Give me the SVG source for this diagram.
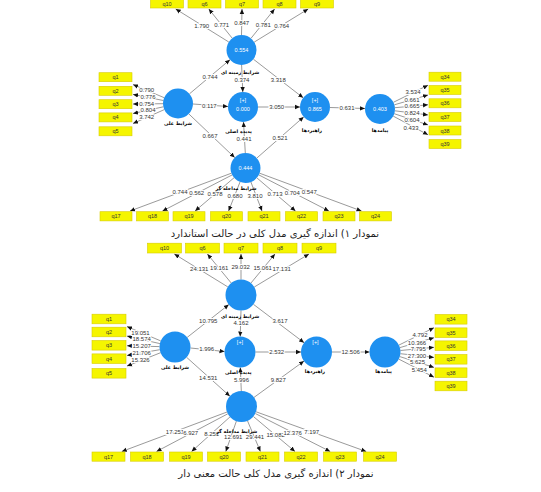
<svg xmlns="http://www.w3.org/2000/svg" width="541" height="492" viewBox="0 0 541 492">
<style>
.bx{fill:#f5f500;stroke:#d8cc00;stroke-width:0.6}
.bt{font-family:"Liberation Sans",Arial,sans-serif;font-size:5.5px;fill:#333;text-anchor:middle;dominant-baseline:central}
.nd{fill:#1e90f0}
.nt{font-family:"Liberation Sans",Arial,sans-serif;font-size:5.5px;fill:#fff;text-anchor:middle;dominant-baseline:central}
.nl{font-family:"DejaVu Sans",sans-serif;font-size:4.8px;font-weight:bold;fill:#000;text-anchor:middle;dominant-baseline:central}
.e line{stroke:#555;stroke-width:0.6;marker-end:url(#ah)}
.el{font-family:"Liberation Sans",Arial,sans-serif;font-size:6px;fill:#333;text-anchor:middle;dominant-baseline:central;stroke:#fff;stroke-width:2;paint-order:stroke}
.cap{font-family:"DejaVu Sans","Noto Sans",sans-serif;font-size:10px;fill:#222;text-anchor:middle;dominant-baseline:central}
</style>
<defs>
<marker id="ah" markerWidth="6" markerHeight="6" refX="5" refY="3" orient="auto" markerUnits="userSpaceOnUse">
<path d="M0,0.8 L5,3 L0,5.2 Z" fill="#111"/>
</marker>
</defs>
<rect width="541" height="492" fill="#fff"/>

<!-- ===== TOP DIAGRAM: connectors ===== -->
<g id="edges1" class="e">
<line x1="228.8" y1="42" x2="175.7" y2="9"/>
<line x1="232.2" y1="38.2" x2="208.8" y2="9"/>
<line x1="241.5" y1="35" x2="242" y2="9"/>
<line x1="251" y1="38.3" x2="274.6" y2="9"/>
<line x1="254.2" y1="42.1" x2="308.2" y2="9"/>
<line x1="164.2" y1="97.7" x2="133" y2="84.6"/>
<line x1="163.3" y1="100.5" x2="133" y2="94.4"/>
<line x1="163" y1="103.7" x2="133" y2="104"/>
<line x1="163.4" y1="106.8" x2="133" y2="113.5"/>
<line x1="164.3" y1="109.6" x2="133" y2="123.5"/>
<line x1="393.4" y1="102.3" x2="428" y2="85.2"/>
<line x1="394.4" y1="104.8" x2="428" y2="95"/>
<line x1="394.9" y1="107.7" x2="428" y2="104.8"/>
<line x1="394.9" y1="110.8" x2="428" y2="114.9"/>
<line x1="394.2" y1="113.7" x2="428" y2="124.9"/>
<line x1="393.2" y1="116.1" x2="428" y2="134.8"/>
<line x1="231.4" y1="173.2" x2="130" y2="211"/>
<line x1="232.2" y1="174.9" x2="162.5" y2="211"/>
<line x1="234.1" y1="177.7" x2="195.1" y2="211"/>
<line x1="240" y1="182" x2="228.6" y2="211"/>
<line x1="250.9" y1="182" x2="262" y2="211"/>
<line x1="256.8" y1="177.8" x2="295.5" y2="211"/>
<line x1="258.8" y1="174.9" x2="328.9" y2="211"/>
<line x1="259.6" y1="173.2" x2="361.5" y2="211"/>
<line x1="189.5" y1="93.8" x2="230" y2="59.7"/>
<line x1="241.6" y1="65" x2="242.8" y2="92"/>
<line x1="253.4" y1="59.2" x2="303.2" y2="97.8"/>
<line x1="193" y1="104" x2="228" y2="106.5"/>
<line x1="188.8" y1="113.9" x2="234.7" y2="157.6"/>
<line x1="245.3" y1="153" x2="243.5" y2="122"/>
<line x1="258" y1="107" x2="300" y2="107"/>
<line x1="256.8" y1="158.1" x2="303.7" y2="116.9"/>
<line x1="330" y1="107.5" x2="365" y2="108.5"/>
</g>
<g id="labels1">
<text class="el" x="201.7" y="25.7">1.790</text>
<text class="el" x="221.7" y="25">0.771</text>
<text class="el" x="241.7" y="23.3">0.847</text>
<text class="el" x="263.3" y="25">0.781</text>
<text class="el" x="281.7" y="26">0.764</text>
<text class="el" x="146.7" y="90.3">0.790</text>
<text class="el" x="148" y="97">0.776</text>
<text class="el" x="146.7" y="103.6">0.754</text>
<text class="el" x="148" y="110.3">0.804</text>
<text class="el" x="146.7" y="117.3">3.742</text>
<text class="el" x="413" y="92.3">3.534</text>
<text class="el" x="412" y="99.7">0.661</text>
<text class="el" x="412" y="106.2">0.665</text>
<text class="el" x="412" y="112.9">0.824</text>
<text class="el" x="412" y="119.6">0.604</text>
<text class="el" x="411" y="127.5">0.433</text>
<text class="el" x="180" y="192">0.744</text>
<text class="el" x="196.7" y="193">0.562</text>
<text class="el" x="215" y="194.3">0.578</text>
<text class="el" x="235" y="195.7">0.680</text>
<text class="el" x="255" y="195.7">3.810</text>
<text class="el" x="275" y="194.3">0.713</text>
<text class="el" x="292.3" y="192.5">0.704</text>
<text class="el" x="309.3" y="192">0.547</text>
<text class="el" x="210" y="77">0.744</text>
<text class="el" x="241.9" y="80">0.374</text>
<text class="el" x="278.3" y="80">3.318</text>
<text class="el" x="209.3" y="105.5">0.117</text>
<text class="el" x="210" y="135.5">0.667</text>
<text class="el" x="244" y="139">0.441</text>
<text class="el" x="276.7" y="107">3.050</text>
<text class="el" x="280" y="137.7">0.521</text>
<text class="el" x="347" y="108">0.631</text>
</g>

<!-- ===== TOP DIAGRAM: indicator boxes ===== -->
<g id="q10a"><rect class="bx" x="150.5" y="-2" width="33" height="10"/><text class="bt" x="167" y="3.5">q10</text></g>
<g id="q6a"><rect class="bx" x="188" y="-2" width="33" height="10"/><text class="bt" x="204.5" y="3.5">q6</text></g>
<g id="q7a"><rect class="bx" x="225.5" y="-2" width="33" height="10"/><text class="bt" x="242" y="3.5">q7</text></g>
<g id="q8a"><rect class="bx" x="263" y="-2" width="33" height="10"/><text class="bt" x="279.5" y="3.5">q8</text></g>
<g id="q9a"><rect class="bx" x="300.5" y="-2" width="33" height="10"/><text class="bt" x="317" y="3.5">q9</text></g>
<g id="q1a"><rect class="bx" x="99" y="72.7" width="33" height="9"/><text class="bt" x="115.5" y="77.2">q1</text></g>
<g id="q2a"><rect class="bx" x="99" y="86.3" width="33" height="9"/><text class="bt" x="115.5" y="90.8">q2</text></g>
<g id="q3a"><rect class="bx" x="99" y="99.7" width="33" height="9"/><text class="bt" x="115.5" y="104.2">q3</text></g>
<g id="q4a"><rect class="bx" x="99" y="112.9" width="33" height="9"/><text class="bt" x="115.5" y="117.4">q4</text></g>
<g id="q5a"><rect class="bx" x="99" y="126.8" width="33" height="9"/><text class="bt" x="115.5" y="131.3">q5</text></g>
<g id="q34a"><rect class="bx" x="429" y="72.2" width="32" height="9"/><text class="bt" x="445" y="76.7">q34</text></g>
<g id="q35a"><rect class="bx" x="429" y="85.5" width="32" height="9"/><text class="bt" x="445" y="90">q35</text></g>
<g id="q36a"><rect class="bx" x="429" y="98.8" width="32" height="9"/><text class="bt" x="445" y="103.3">q36</text></g>
<g id="q37a"><rect class="bx" x="429" y="112.5" width="32" height="9"/><text class="bt" x="445" y="117">q37</text></g>
<g id="q38a"><rect class="bx" x="429" y="126" width="32" height="9"/><text class="bt" x="445" y="130.5">q38</text></g>
<g id="q39a"><rect class="bx" x="429" y="139.5" width="32" height="9"/><text class="bt" x="445" y="144">q39</text></g>
<g id="q17a"><rect class="bx" x="100" y="211.7" width="32" height="9.2"/><text class="bt" x="116" y="216.3">q17</text></g>
<g id="q18a"><rect class="bx" x="136.5" y="211.7" width="32" height="9.2"/><text class="bt" x="152.5" y="216.3">q18</text></g>
<g id="q19a"><rect class="bx" x="173" y="211.7" width="32" height="9.2"/><text class="bt" x="189" y="216.3">q19</text></g>
<g id="q20a"><rect class="bx" x="210.5" y="211.7" width="32" height="9.2"/><text class="bt" x="226.5" y="216.3">q20</text></g>
<g id="q21a"><rect class="bx" x="248" y="211.7" width="32" height="9.2"/><text class="bt" x="264" y="216.3">q21</text></g>
<g id="q22a"><rect class="bx" x="285.5" y="211.7" width="32" height="9.2"/><text class="bt" x="301.5" y="216.3">q22</text></g>
<g id="q23a"><rect class="bx" x="323" y="211.7" width="32" height="9.2"/><text class="bt" x="339" y="216.3">q23</text></g>
<g id="q24a"><rect class="bx" x="359.5" y="211.7" width="32" height="9.2"/><text class="bt" x="375.5" y="216.3">q24</text></g>

<!-- ===== TOP DIAGRAM: latent nodes ===== -->
<g id="T1"><circle class="nd" cx="241.5" cy="50" r="15"/><text class="nt" x="241.5" y="50">0.554</text><text class="nl" x="240" y="72">شرایط زمینه ای</text></g>
<g id="L1"><circle class="nd" cx="178" cy="103.5" r="15"/><text class="nl" x="178" y="123">شرایط علی</text></g>
<g id="M1"><circle class="nd" cx="243" cy="107" r="15"/><text class="nt" x="243" y="100">[+]</text><text class="nt" x="243" y="108.5">0.000</text><text class="nl" x="238.5" y="131.7">پدیده اصلی</text></g>
<g id="R1"><circle class="nd" cx="315" cy="107" r="15"/><text class="nt" x="315" y="99.5">[+]</text><text class="nt" x="315" y="108.5">0.865</text><text class="nl" x="312" y="130.5">راهبردها</text></g>
<g id="F1"><circle class="nd" cx="380" cy="109" r="15"/><text class="nt" x="380" y="109">0.403</text><text class="nl" x="380" y="130.7">پیامدها</text></g>
<g id="B1"><circle class="nd" cx="245.5" cy="168" r="15"/><text class="nt" x="245.5" y="168">0.444</text><text class="nl" x="236" y="188.7">شرایط مداخله گر</text></g>

<text class="cap" x="275" y="233">نمودار ۱) اندازه گیری مدل کلی در حالت استاندارد</text>

<!-- ===== BOTTOM DIAGRAM: connectors ===== -->
<g id="edges2" class="e">
<line x1="227.8" y1="286.9" x2="174.3" y2="254"/>
<line x1="231.2" y1="283" x2="207.4" y2="254"/>
<line x1="241" y1="279.5" x2="241" y2="254"/>
<line x1="250.9" y1="283.1" x2="275" y2="254"/>
<line x1="254.3" y1="287" x2="309" y2="254"/>
<line x1="160.7" y1="340.9" x2="127" y2="326.6"/>
<line x1="159.9" y1="343.6" x2="127" y2="336.1"/>
<line x1="159.5" y1="346.6" x2="127" y2="345.8"/>
<line x1="159.7" y1="349.7" x2="127" y2="355.5"/>
<line x1="160.6" y1="352.7" x2="127" y2="366.1"/>
<line x1="398.9" y1="345.1" x2="434" y2="327.7"/>
<line x1="399.9" y1="347.6" x2="434" y2="337.7"/>
<line x1="400.4" y1="350.5" x2="434" y2="347.3"/>
<line x1="400.4" y1="353.7" x2="434" y2="357.4"/>
<line x1="399.8" y1="356.6" x2="434" y2="367.4"/>
<line x1="398.8" y1="359.1" x2="434" y2="377.2"/>
<line x1="227" y1="412" x2="121.8" y2="451.5"/>
<line x1="227.8" y1="413.8" x2="156.5" y2="451.5"/>
<line x1="230" y1="416.9" x2="191.6" y2="451.5"/>
<line x1="236.4" y1="421.1" x2="225.8" y2="451.5"/>
<line x1="247.5" y1="420.8" x2="260.4" y2="451.5"/>
<line x1="253.4" y1="416.5" x2="295" y2="451.5"/>
<line x1="255.3" y1="413.5" x2="330.2" y2="451.5"/>
<line x1="256.1" y1="411.8" x2="366.2" y2="451.5"/>
<line x1="187.2" y1="337.4" x2="228.8" y2="304.6"/>
<line x1="241" y1="310.5" x2="240.2" y2="336.5"/>
<line x1="253.4" y1="304.3" x2="304.1" y2="342.7"/>
<line x1="190.5" y1="348" x2="224.5" y2="351.5"/>
<line x1="186.6" y1="357.3" x2="229.9" y2="396.2"/>
<line x1="241.3" y1="391" x2="240.3" y2="367.5"/>
<line x1="255.5" y1="352" x2="301" y2="352"/>
<line x1="254" y1="397.4" x2="304" y2="361.1"/>
<line x1="332" y1="352" x2="369.5" y2="352"/>
</g>
<g id="labels2">
<text class="el" x="199.3" y="269.2">24.131</text>
<text class="el" x="219.3" y="267.7">19.161</text>
<text class="el" x="240.7" y="266.7">29.032</text>
<text class="el" x="262.7" y="267.7">15.061</text>
<text class="el" x="281.7" y="269">17.131</text>
<text class="el" x="140.5" y="332.6">19.051</text>
<text class="el" x="141.7" y="339.3">18.574</text>
<text class="el" x="141.7" y="346">15.207</text>
<text class="el" x="141.7" y="352.8">21.706</text>
<text class="el" x="140.5" y="360.3">15.326</text>
<text class="el" x="420" y="335">4.792</text>
<text class="el" x="417" y="342.5">10.366</text>
<text class="el" x="418.3" y="348.7">7.795</text>
<text class="el" x="417" y="355.5">27.300</text>
<text class="el" x="417.5" y="362.2">5.625</text>
<text class="el" x="419.3" y="369.5">5.454</text>
<text class="el" x="175" y="431.8">17.251</text>
<text class="el" x="190.7" y="433.3">6.927</text>
<text class="el" x="211.7" y="434.3">8.251</text>
<text class="el" x="233.3" y="436.5">12.691</text>
<text class="el" x="255" y="436.5">29.441</text>
<text class="el" x="275.7" y="435">15.082</text>
<text class="el" x="292.7" y="433.3">12.376</text>
<text class="el" x="311.7" y="432.3">7.197</text>
<text class="el" x="208.3" y="320.7">10.795</text>
<text class="el" x="241" y="322.7">4.162</text>
<text class="el" x="280" y="321">3.617</text>
<text class="el" x="206.7" y="349">1.996</text>
<text class="el" x="208.3" y="377.7">14.531</text>
<text class="el" x="241.5" y="380">5.996</text>
<text class="el" x="276.7" y="352">2.532</text>
<text class="el" x="278.3" y="380">9.827</text>
<text class="el" x="350.7" y="352">12.506</text>
</g>

<!-- ===== BOTTOM DIAGRAM: indicator boxes ===== -->
<g id="q10b"><rect class="bx" x="147.5" y="243.2" width="34" height="9.8"/><text class="bt" x="164.5" y="248.1">q10</text></g>
<g id="q6b"><rect class="bx" x="185.5" y="243.2" width="34" height="9.8"/><text class="bt" x="202.5" y="248.1">q6</text></g>
<g id="q7b"><rect class="bx" x="224" y="243.2" width="34" height="9.8"/><text class="bt" x="241" y="248.1">q7</text></g>
<g id="q8b"><rect class="bx" x="263" y="243.2" width="34" height="9.8"/><text class="bt" x="280" y="248.1">q8</text></g>
<g id="q9b"><rect class="bx" x="302" y="243.2" width="34" height="9.8"/><text class="bt" x="319" y="248.1">q9</text></g>
<g id="q1b"><rect class="bx" x="92" y="314.2" width="34" height="9.6"/><text class="bt" x="109" y="319">q1</text></g>
<g id="q2b"><rect class="bx" x="92" y="327.2" width="34" height="9.6"/><text class="bt" x="109" y="332">q2</text></g>
<g id="q3b"><rect class="bx" x="92" y="340.5" width="34" height="9.6"/><text class="bt" x="109" y="345.3">q3</text></g>
<g id="q4b"><rect class="bx" x="92" y="353.9" width="34" height="9.6"/><text class="bt" x="109" y="358.7">q4</text></g>
<g id="q5b"><rect class="bx" x="92" y="368.5" width="34" height="9.6"/><text class="bt" x="109" y="373.3">q5</text></g>
<g id="q34b"><rect class="bx" x="435" y="314.5" width="32" height="9.6"/><text class="bt" x="451" y="319.3">q34</text></g>
<g id="q35b"><rect class="bx" x="435" y="327.9" width="32" height="9.6"/><text class="bt" x="451" y="332.7">q35</text></g>
<g id="q36b"><rect class="bx" x="435" y="340.9" width="32" height="9.6"/><text class="bt" x="451" y="345.7">q36</text></g>
<g id="q37b"><rect class="bx" x="435" y="354.5" width="32" height="9.6"/><text class="bt" x="451" y="359.3">q37</text></g>
<g id="q38b"><rect class="bx" x="435" y="367.9" width="32" height="9.6"/><text class="bt" x="451" y="372.7">q38</text></g>
<g id="q39b"><rect class="bx" x="435" y="381.2" width="32" height="9.6"/><text class="bt" x="451" y="386">q39</text></g>
<g id="q17b"><rect class="bx" x="92" y="452" width="33" height="9.2"/><text class="bt" x="108.5" y="456.6">q17</text></g>
<g id="q18b"><rect class="bx" x="130.5" y="452" width="33" height="9.2"/><text class="bt" x="147" y="456.6">q18</text></g>
<g id="q19b"><rect class="bx" x="169.5" y="452" width="33" height="9.2"/><text class="bt" x="186" y="456.6">q19</text></g>
<g id="q20b"><rect class="bx" x="207.5" y="452" width="33" height="9.2"/><text class="bt" x="224" y="456.6">q20</text></g>
<g id="q21b"><rect class="bx" x="246" y="452" width="33" height="9.2"/><text class="bt" x="262.5" y="456.6">q21</text></g>
<g id="q22b"><rect class="bx" x="284.5" y="452" width="33" height="9.2"/><text class="bt" x="301" y="456.6">q22</text></g>
<g id="q23b"><rect class="bx" x="323.5" y="452" width="33" height="9.2"/><text class="bt" x="340" y="456.6">q23</text></g>
<g id="q24b"><rect class="bx" x="363.5" y="452" width="33" height="9.2"/><text class="bt" x="380" y="456.6">q24</text></g>

<!-- ===== BOTTOM DIAGRAM: latent nodes ===== -->
<g id="T2"><circle class="nd" cx="241" cy="295" r="15.5"/><text class="nl" x="240" y="316">شرایط زمینه ای</text></g>
<g id="L2"><circle class="nd" cx="175" cy="347" r="15.5"/><text class="nl" x="175" y="367">شرایط علی</text></g>
<g id="M2"><circle class="nd" cx="240" cy="352" r="15.5"/><text class="nt" x="240" y="342">[+]</text><text class="nl" x="238.3" y="372.7">پدیده اصلی</text></g>
<g id="R2"><circle class="nd" cx="316.5" cy="352" r="15.5"/><text class="nt" x="315.5" y="342">[+]</text><text class="nl" x="315" y="371">راهبردها</text></g>
<g id="F2"><circle class="nd" cx="385" cy="352" r="15.5"/><text class="nl" x="383.5" y="371">پیامدها</text></g>
<g id="B2"><circle class="nd" cx="241.5" cy="406.5" r="15.5"/><text class="nl" x="236.7" y="431.7">شرایط مداخله گر</text></g>

<text class="cap" x="276" y="473.5">نمودار ۲) اندازه گیری مدل کلی حالت معنی دار</text>
</svg>
